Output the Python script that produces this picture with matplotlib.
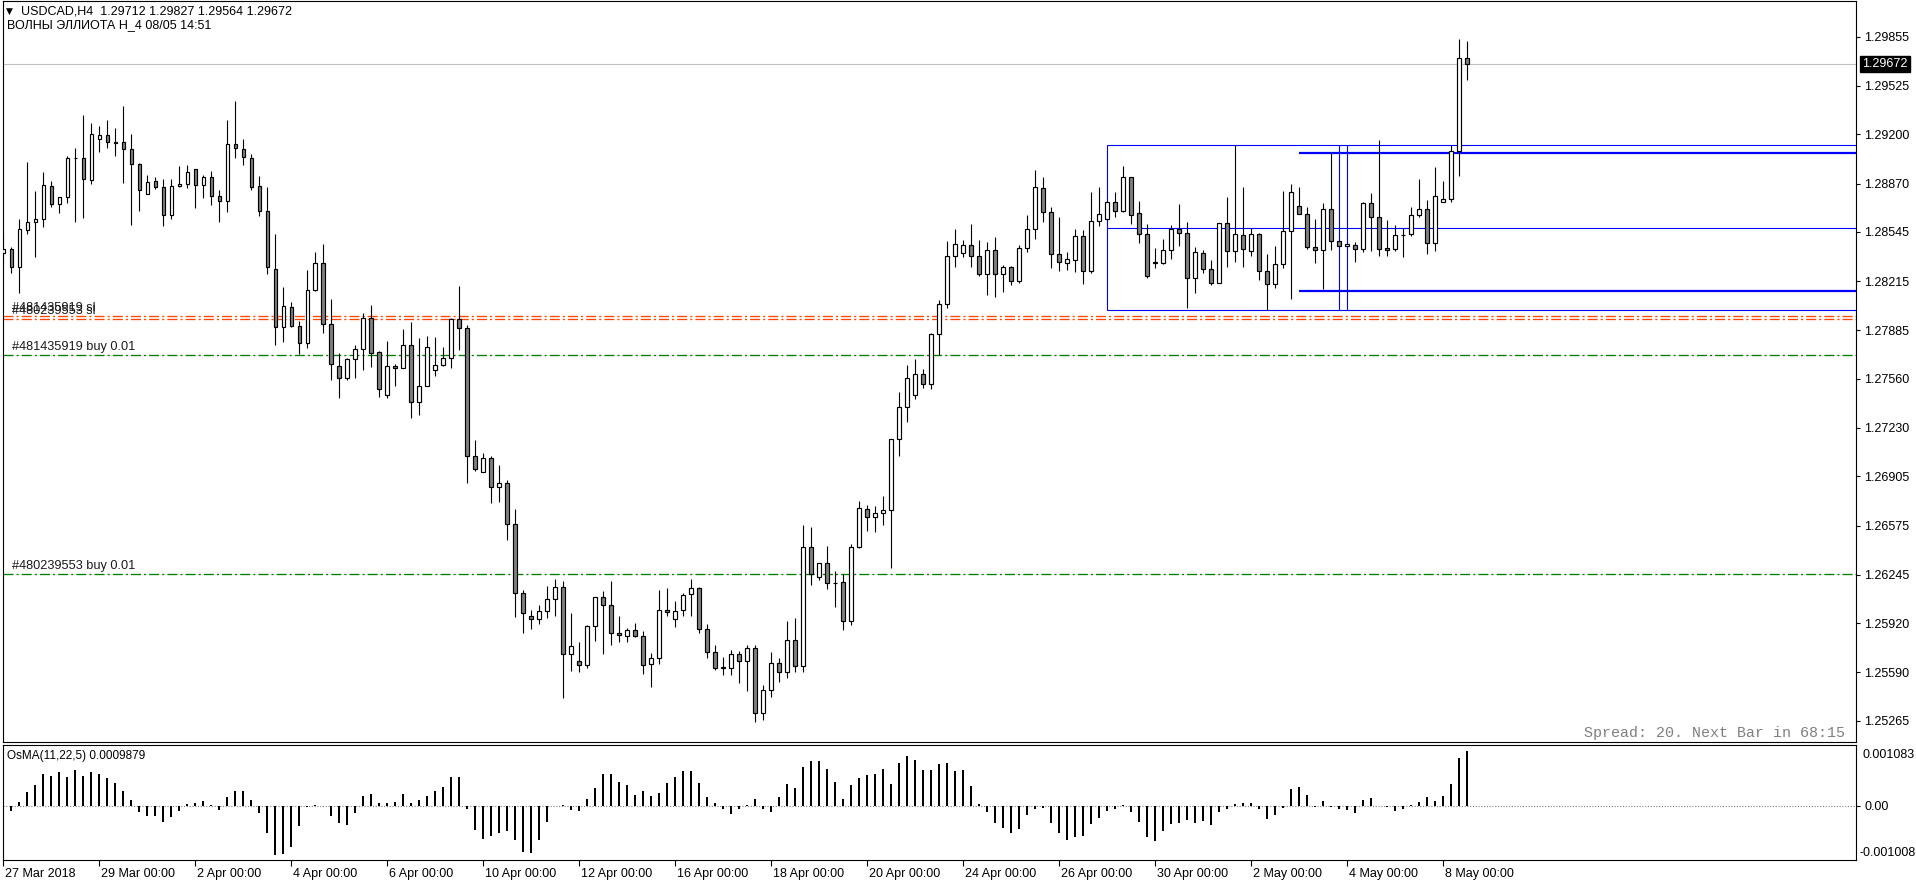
import numpy as np
import matplotlib
matplotlib.use("Agg")
import matplotlib.pyplot as plt
from matplotlib.patches import Rectangle
from matplotlib.transforms import blended_transform_factory, ScaledTranslation

plt.rcParams['font.family'] = ['Liberation Sans', 'DejaVu Sans']

# ---------------- data (USDCAD H4, 27 Mar 2018 00:00 -> 8 May 2018 12:00) ----------------
opens = [1.28402, 1.28428, 1.28308, 1.28556, 1.28610, 1.28630, 1.28851, 1.28730, 1.28777, 1.29041,
         1.29039, 1.28891, 1.29166, 1.29193, 1.29146, 1.29146, 1.29099, 1.28999, 1.28797, 1.28885,
         1.28844, 1.28657, 1.28851, 1.28865, 1.28965, 1.28858, 1.28912, 1.28784, 1.28750, 1.29133,
         1.29099, 1.29039, 1.28851, 1.28683, 1.28294, 1.27905, 1.28039, 1.27912, 1.27798, 1.28153,
         1.28334, 1.27925, 1.27643, 1.27563, 1.27690, 1.27758, 1.27966, 1.27737, 1.27449, 1.27643,
         1.27630, 1.27784, 1.27402, 1.27509, 1.27617, 1.27650, 1.27697, 1.27959, 1.27898, 1.27040,
         1.26932, 1.27026, 1.26832, 1.26859, 1.26583, 1.26121, 1.25966, 1.25946, 1.25999, 1.26080,
         1.26161, 1.25711, 1.25664, 1.25638, 1.25899, 1.26094, 1.26040, 1.25852, 1.25832, 1.25872,
         1.25832, 1.25644, 1.25684, 1.26006, 1.25946, 1.26006, 1.26114, 1.26154, 1.25879, 1.25725,
         1.25624, 1.25617, 1.25711, 1.25664, 1.25752, 1.25318, 1.25472, 1.25653, 1.25593, 1.25807,
         1.25633, 1.26429, 1.26228, 1.26322, 1.26192, 1.26194, 1.25933, 1.26429, 1.26684, 1.26630,
         1.26657, 1.26677, 1.27154, 1.27368, 1.27449, 1.27590, 1.27523, 1.27858, 1.28059, 1.28381,
         1.28402, 1.28455, 1.28381, 1.28261, 1.28422, 1.28261, 1.28308, 1.28214, 1.28435, 1.28563,
         1.28838, 1.28677, 1.28395, 1.28334, 1.28355, 1.28516, 1.28281, 1.28616, 1.28630, 1.28744,
         1.28683, 1.28911, 1.28670, 1.28529, 1.28341, 1.28334, 1.28422, 1.28563, 1.28536, 1.28234,
         1.28402, 1.28294, 1.28200, 1.28603, 1.28415, 1.28522, 1.28415, 1.28529, 1.28281, 1.28194,
         1.28328, 1.28549, 1.28717, 1.28663, 1.28442, 1.28422, 1.28697, 1.28482, 1.28449, 1.28455,
         1.28428, 1.28737, 1.28643, 1.28435, 1.28428, 1.28522, 1.28529, 1.28657, 1.28697, 1.28469,
         1.28744, 1.28764, 1.29086, 1.29712]
highs = [1.28531, 1.28446, 1.28630, 1.29017, 1.28820, 1.28947, 1.28887, 1.28780, 1.29052, 1.29108,
         1.29332, 1.29276, 1.29254, 1.29294, 1.29240, 1.29390, 1.29202, 1.29005, 1.28925, 1.28912,
         1.28898, 1.28898, 1.28985, 1.28992, 1.28965, 1.28925, 1.28954, 1.28824, 1.29294, 1.29421,
         1.29166, 1.29068, 1.28918, 1.28844, 1.28531, 1.28176, 1.28075, 1.27948, 1.28290, 1.28411,
         1.28464, 1.28095, 1.27731, 1.27697, 1.27787, 1.28001, 1.28055, 1.27744, 1.27813, 1.27657,
         1.27894, 1.27941, 1.27834, 1.27847, 1.27840, 1.27773, 1.27966, 1.28182, 1.27919, 1.27149,
         1.27060, 1.27040, 1.26979, 1.26880, 1.26686, 1.26141, 1.26006, 1.26040, 1.26167, 1.26214,
         1.26201, 1.25986, 1.25792, 1.25906, 1.26094, 1.26134, 1.26201, 1.25966, 1.25886, 1.25919,
         1.25866, 1.25718, 1.26141, 1.26154, 1.26067, 1.26121, 1.26214, 1.26161, 1.25913, 1.25772,
         1.25691, 1.25738, 1.25731, 1.25772, 1.25774, 1.25506, 1.25727, 1.25687, 1.25935, 1.25955,
         1.26579, 1.26566, 1.26325, 1.26438, 1.26268, 1.26248, 1.26449, 1.26740, 1.26711, 1.26704,
         1.26771, 1.27154, 1.27469, 1.27650, 1.27690, 1.27623, 1.27865, 1.28086, 1.28482, 1.28563,
         1.28489, 1.28596, 1.28489, 1.28475, 1.28509, 1.28321, 1.28314, 1.28455, 1.28657, 1.28958,
         1.28911, 1.28710, 1.28643, 1.28408, 1.28563, 1.28556, 1.28811, 1.28844, 1.28750, 1.28811,
         1.28985, 1.28911, 1.28750, 1.28596, 1.28435, 1.28495, 1.28589, 1.28730, 1.28610, 1.28442,
         1.28422, 1.28355, 1.28603, 1.28777, 1.29126, 1.28844, 1.28569, 1.28536, 1.28395, 1.28449,
         1.28818, 1.28865, 1.28844, 1.28710, 1.28630, 1.28737, 1.29073, 1.28482, 1.28462, 1.28475,
         1.28744, 1.28804, 1.29160, 1.28623, 1.28589, 1.28569, 1.28710, 1.28898, 1.28757, 1.28979,
         1.28885, 1.29126, 1.29837, 1.29827]
lows = [1.28330, 1.28267, 1.28133, 1.28529, 1.28375, 1.28576, 1.28710, 1.28674, 1.28742, 1.28614,
        1.28641, 1.28869, 1.29084, 1.29111, 1.29057, 1.28876, 1.28594, 1.28688, 1.28797, 1.28831,
        1.28587, 1.28634, 1.28844, 1.28838, 1.28704, 1.28771, 1.28728, 1.28610, 1.28677, 1.29039,
        1.28992, 1.28827, 1.28650, 1.28265, 1.27789, 1.27809, 1.27905, 1.27728, 1.27769, 1.28147,
        1.27869, 1.27554, 1.27433, 1.27550, 1.27563, 1.27621, 1.27637, 1.27436, 1.27429, 1.27509,
        1.27630, 1.27295, 1.27315, 1.27509, 1.27576, 1.27643, 1.27630, 1.27755, 1.26859, 1.26939,
        1.26932, 1.26724, 1.26736, 1.26481, 1.25964, 1.25857, 1.25883, 1.25917, 1.25953, 1.25971,
        1.25421, 1.25602, 1.25595, 1.25617, 1.25799, 1.25716, 1.25772, 1.25792, 1.25792, 1.25825,
        1.25577, 1.25494, 1.25644, 1.25966, 1.25892, 1.25971, 1.25971, 1.25852, 1.25684, 1.25604,
        1.25570, 1.25570, 1.25517, 1.25463, 1.25257, 1.25271, 1.25425, 1.25526, 1.25553, 1.25593,
        1.25593, 1.26174, 1.26208, 1.26147, 1.26031, 1.25875, 1.25906, 1.26422, 1.26536, 1.26530,
        1.26577, 1.26288, 1.27040, 1.27268, 1.27422, 1.27496, 1.27489, 1.27717, 1.28033, 1.28308,
        1.28375, 1.28308, 1.28247, 1.28120, 1.28106, 1.28144, 1.28187, 1.28200, 1.28408, 1.28495,
        1.28610, 1.28301, 1.28281, 1.28288, 1.28274, 1.28194, 1.28267, 1.28583, 1.28623, 1.28643,
        1.28677, 1.28596, 1.28469, 1.28234, 1.28301, 1.28328, 1.28361, 1.28449, 1.28033, 1.28133,
        1.28267, 1.28187, 1.28200, 1.28308, 1.28341, 1.28308, 1.28381, 1.28220, 1.28019, 1.28167,
        1.28301, 1.28093, 1.28663, 1.28428, 1.28335, 1.28160, 1.28422, 1.28449, 1.28449, 1.28341,
        1.28408, 1.28415, 1.28381, 1.28381, 1.28415, 1.28375, 1.28516, 1.28643, 1.28395, 1.28415,
        1.28744, 1.28744, 1.28918, 1.29564]
closes = [1.28428, 1.28308, 1.28563, 1.28610, 1.28630, 1.28858, 1.28730, 1.28777, 1.29039, 1.29039,
          1.28898, 1.29200, 1.29193, 1.29146, 1.29145, 1.29099, 1.28999, 1.28824, 1.28878, 1.28844,
          1.28657, 1.28851, 1.28865, 1.28945, 1.28858, 1.28912, 1.28784, 1.28750, 1.29133, 1.29106,
          1.29046, 1.28849, 1.28683, 1.28308, 1.27905, 1.28046, 1.27912, 1.27798, 1.28153, 1.28334,
          1.27925, 1.27657, 1.27563, 1.27690, 1.27758, 1.27966, 1.27731, 1.27489, 1.27643, 1.27630,
          1.27784, 1.27402, 1.27509, 1.27771, 1.27650, 1.27697, 1.27959, 1.27898, 1.27040, 1.26952,
          1.27026, 1.26832, 1.26859, 1.26583, 1.26121, 1.25986, 1.25946, 1.25999, 1.26080, 1.26161,
          1.25711, 1.25765, 1.25638, 1.25899, 1.26094, 1.26040, 1.25852, 1.25839, 1.25872, 1.25832,
          1.25638, 1.25684, 1.26006, 1.25993, 1.25999, 1.26107, 1.26154, 1.25879, 1.25725, 1.25617,
          1.25617, 1.25711, 1.25664, 1.25752, 1.25318, 1.25472, 1.25653, 1.25593, 1.25807, 1.25633,
          1.26429, 1.26248, 1.26322, 1.26188, 1.26190, 1.25933, 1.26429, 1.26691, 1.26630, 1.26657,
          1.26677, 1.27154, 1.27368, 1.27563, 1.27590, 1.27523, 1.27858, 1.28059, 1.28381, 1.28462,
          1.28455, 1.28381, 1.28261, 1.28422, 1.28261, 1.28308, 1.28214, 1.28435, 1.28563, 1.28844,
          1.28677, 1.28395, 1.28341, 1.28361, 1.28516, 1.28281, 1.28616, 1.28663, 1.28744, 1.28683,
          1.28911, 1.28657, 1.28529, 1.28247, 1.28334, 1.28422, 1.28563, 1.28536, 1.28234, 1.28408,
          1.28294, 1.28200, 1.28603, 1.28415, 1.28529, 1.28428, 1.28529, 1.28281, 1.28194, 1.28328,
          1.28549, 1.28811, 1.28663, 1.28442, 1.28422, 1.28697, 1.28482, 1.28449, 1.28462, 1.28428,
          1.28737, 1.28643, 1.28428, 1.28422, 1.28522, 1.28522, 1.28657, 1.28697, 1.28469, 1.28784,
          1.28764, 1.29086, 1.29710, 1.29672]

osma = [0.000078, -0.000090, 0.000060, 0.000240, 0.000372, 0.000570, 0.000534, 0.000606, 0.000510, 0.000636,
        0.000540, 0.000600, 0.000570, 0.000492, 0.000402, 0.000264, 0.000102, -0.000108, -0.000180, -0.000186,
        -0.000288, -0.000198, -0.000096, 0.000030, 0.000048, 0.000084, 0.000012, -0.000078, 0.000156, 0.000264,
        0.000264, 0.000102, -0.000138, -0.000498, -0.000882, -0.000876, -0.000750, -0.000366, -0.000018, 0.000018,
        -0.000006, -0.000180, -0.000318, -0.000348, -0.000126, 0.000174, 0.000210, 0.000048, 0.000054, 0.000060,
        0.000204, 0.000054, 0.000096, 0.000180, 0.000270, 0.000336, 0.000522, 0.000516, -0.000054, -0.000438,
        -0.000606, -0.000546, -0.000498, -0.000450, -0.000618, -0.000834, -0.000846, -0.000612, -0.000288, -0.000006,
        0.000018, -0.000084, -0.000102, 0.000120, 0.000318, 0.000570, 0.000576, 0.000420, 0.000372, 0.000186,
        0.000270, 0.000180, 0.000222, 0.000402, 0.000516, 0.000618, 0.000624, 0.000408, 0.000162, 0.000042,
        -0.000060, -0.000144, -0.000066, 0.000018, 0.000126, -0.000066, -0.000120, 0.000156, 0.000396, 0.000318,
        0.000702, 0.000804, 0.000804, 0.000660, 0.000432, 0.000120, 0.000366, 0.000492, 0.000552, 0.000564,
        0.000660, 0.000396, 0.000762, 0.000894, 0.000822, 0.000636, 0.000636, 0.000750, 0.000762, 0.000624,
        0.000636, 0.000360, 0.000036, -0.000120, -0.000306, -0.000408, -0.000498, -0.000426, -0.000174, -0.000060,
        -0.000042, -0.000306, -0.000498, -0.000624, -0.000558, -0.000546, -0.000330, -0.000216, -0.000090, -0.000054,
        0.000018, -0.000108, -0.000288, -0.000558, -0.000630, -0.000450, -0.000336, -0.000318, -0.000258, -0.000312,
        -0.000270, -0.000354, -0.000120, -0.000066, 0.000036, 0.000048, 0.000048, -0.000066, -0.000234, -0.000168,
        -0.000036, 0.000306, 0.000342, 0.000186, -0.000030, 0.000078, -0.000030, -0.000060, -0.000084, -0.000126,
        0.000102, 0.000138, -0.000012, -0.000030, -0.000096, -0.000066, 0.000018, 0.000072, 0.000156, 0.000090,
        0.000168, 0.000396, 0.000858, 0.0009879]

price_ticks = [1.29855, 1.29525, 1.29200, 1.28870, 1.28545, 1.28215, 1.27885,
               1.27560, 1.27230, 1.26905, 1.26575, 1.26245, 1.25920, 1.25590, 1.25265]
date_idx = [0, 12, 24, 36, 48, 60, 72, 84, 96, 108, 120, 132, 144, 156, 168, 180]
date_labels = ["27 Mar 2018", "29 Mar 00:00", "2 Apr 00:00", "4 Apr 00:00", "6 Apr 00:00",
               "10 Apr 00:00", "12 Apr 00:00", "16 Apr 00:00", "18 Apr 00:00", "20 Apr 00:00",
               "24 Apr 00:00", "26 Apr 00:00", "30 Apr 00:00", "2 May 00:00", "4 May 00:00",
               "8 May 00:00"]

sl_levels = [1.27981, 1.27963]
sl_labels = ["#481435919 sl", "#480239553 sl"]
buy_levels = [1.27718, 1.26248]
buy_labels = ["#481435919 buy 0.01", "#480239553 buy 0.01"]

box_left = 138
box_top = 1.29126
box_bottom = 1.28019
box_mid = 1.28570
thick_start = 162
thick_levels = [1.29077, 1.28149]
vline_idx = [167, 168]

osma_top_label = "0.001083"
osma_bot_label = "-0.001008"

# ---------------- layout ----------------
W, H = 1916, 884
fig = plt.figure(figsize=(W / 100, H / 100), dpi=100)
fig.patch.set_facecolor('white')


def rect(l, t, r, b):
    return [l / W, 1 - b / H, (r - l) / W, (b - t) / H]


ax = fig.add_axes(rect(3, 1, 1856, 742))
axi = fig.add_axes(rect(3, 745, 1856, 860))

XL = (-0.04, 231.6)

o = np.array(opens); h = np.array(highs); l = np.array(lows); c = np.array(closes)
x = np.arange(len(o))
up = c >= o

# candles
ax.vlines(x, l, h, color='black', lw=0.8, zorder=3)
bb = np.minimum(o, c)
bh = np.maximum(np.abs(c - o), 1e-7)
ax.bar(x[up], bh[up], bottom=bb[up], width=0.45, color='white', edgecolor='black', lw=0.85, zorder=4)
ax.bar(x[~up], bh[~up], bottom=bb[~up], width=0.45, color='#808080', edgecolor='black', lw=0.85, zorder=4)

ax.set_xlim(*XL)
ax.set_ylim(1.25123, 1.300945)

# bid line
ax.axhline(closes[-1], color='#C0C0C0', lw=0.8, zorder=1)

# order lines
dd = (7.6, 2.3, 1.6, 2.3)
for lev in sl_levels:
    ax.axhline(lev, color='#FF4500', lw=0.95, dashes=dd, zorder=2)
for lev in buy_levels:
    ax.axhline(lev, color='#008000', lw=0.95, dashes=dd, zorder=2)

tr = blended_transform_factory(ax.transAxes, ax.transData)
for lev, lab in zip(sl_levels, sl_labels):
    ax.annotate(lab, xy=(0, lev), xycoords=tr, xytext=(6.5, 1.5), textcoords='offset points',
                ha='left', va='bottom', fontsize=9.2, color='#1a1a1a', zorder=5)
for lev, lab in zip(buy_levels, buy_labels):
    ax.annotate(lab, xy=(0, lev), xycoords=tr, xytext=(6.5, 1.5), textcoords='offset points',
                ha='left', va='bottom', fontsize=9.2, color='#1a1a1a', zorder=5)

# blue objects
xr = XL[1] + 2
ax.add_patch(Rectangle((box_left, box_bottom), xr - box_left, box_top - box_bottom,
                       fill=False, edgecolor='#0000FF', lw=0.8, zorder=2))
ax.hlines(box_mid, box_left, xr, color='#0000FF', lw=0.8, zorder=2)
ax.hlines(thick_levels, thick_start, xr, color='#0000FF', lw=1.6, zorder=2)
ax.vlines(vline_idx, box_bottom, box_top, color='#0000FF', lw=0.8, zorder=2)

# axes styling
for a in (ax, axi):
    for s in a.spines.values():
        s.set_linewidth(0.8)
        s.set_color('black')
ax.set_xticks([])
ax.yaxis.tick_right()
ax.set_yticks(price_ticks)
ax.set_yticklabels([f"{v:.5f}" for v in price_ticks])
ax.tick_params(axis='y', direction='out', length=3, width=0.8, labelsize=9, pad=3)

# current price box
ax.annotate(f"{closes[-1]:.5f}", xy=(1, closes[-1]), xycoords=tr, xytext=(4.6, 0),
            textcoords='offset points', ha='left', va='center', fontsize=9, color='white',
            bbox=dict(boxstyle='square,pad=0.18', facecolor='black', edgecolor='black'),
            annotation_clip=False, zorder=10)

# spread text
fig.text(1845 / W, 1 - 733 / H, "Spread: 20. Next Bar in 68:15", ha='right', va='center',
         family='Liberation Mono', fontsize=10.8, color='#808080')

# header
fig.text(6 / W, 1 - 11.5 / H, "\u25bc", ha='left', va='center', fontsize=6.5,
         family=['DejaVu Sans'])
fig.text(21 / W, 1 - 11.5 / H,
         f"USDCAD,H4  {opens[-1]:.5f} {highs[-1]:.5f} {lows[-1]:.5f} {closes[-1]:.5f}",
         ha='left', va='center', fontsize=9)
fig.text(7 / W, 1 - 25.5 / H, "ВОЛНЫ ЭЛЛИОТА H_4 08/05 14:51", ha='left', va='center', fontsize=9)

# ---------------- OsMA panel ----------------
xo = np.arange(len(osma))
axi.bar(xo, osma, width=0.27, color='black', zorder=3)
axi.axhline(0, color='#808080', lw=0.8, dashes=(1, 1.5), zorder=2)
axi.set_xlim(*XL)
axi.set_ylim(-0.000975, 0.00109)
axi.yaxis.tick_right()
axi.set_yticks([0])
axi.set_yticklabels(["0.00"])
axi.tick_params(axis='y', direction='out', length=3, width=0.8, labelsize=9, pad=3)
axi.annotate(osma_top_label, xy=(1, 0.913), xycoords='axes fraction', xytext=(4.5, 0),
             textcoords='offset points', ha='left', va='center', fontsize=9, annotation_clip=False)
axi.annotate(osma_bot_label, xy=(1, 0.063), xycoords='axes fraction', xytext=(2.5, 0),
             textcoords='offset points', ha='left', va='center', fontsize=9, annotation_clip=False)
axi.text(0.002, 0.9, f"OsMA(11,22,5) {osma[-1]:.7f}", transform=axi.transAxes,
         ha='left', va='center', fontsize=8.5)

axi.set_xticks(date_idx)
axi.set_xticklabels(date_labels)
axi.tick_params(axis='x', direction='out', length=4, width=0.8, labelsize=9, pad=1.5)
off = ScaledTranslation(2 / 100, 0, fig.dpi_scale_trans)
for lbl in axi.get_xticklabels():
    lbl.set_horizontalalignment('left')
    lbl.set_transform(lbl.get_transform() + off)

fig.savefig("out.png", dpi=100, facecolor='white')
